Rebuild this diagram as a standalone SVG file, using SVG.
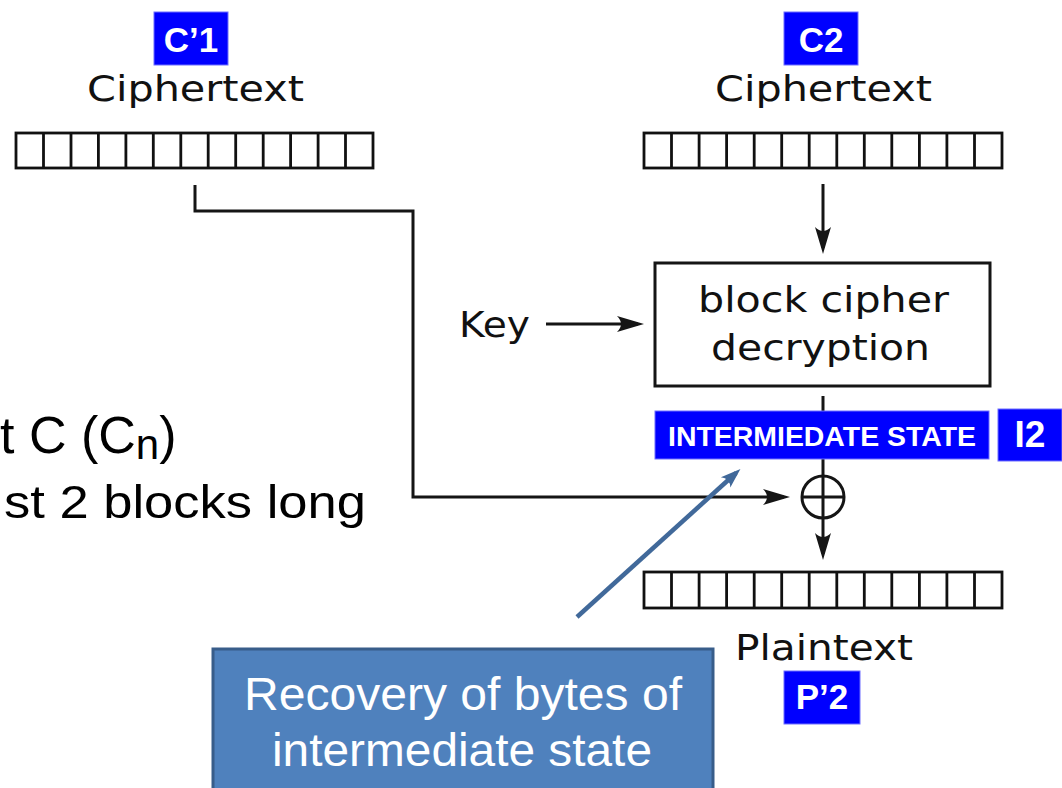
<svg xmlns="http://www.w3.org/2000/svg" width="1062" height="788" viewBox="0 0 1062 788">
<defs>
<style>
.dv{font-family:"DejaVu Sans","Liberation Sans",sans-serif;font-size:35px;fill:#111}
.ar{font-family:"Liberation Sans",Arial,sans-serif;fill:#000}
.tag{fill:#0000FF;stroke:#6f6fff;stroke-width:1}
.tagt{font-family:"Liberation Sans",Arial,sans-serif;font-weight:bold;fill:#fff;text-anchor:middle}
.ln{fill:none;stroke:#151515;stroke-width:3}
.cells{fill:#fff;stroke:#111;stroke-width:2.8}
</style>
<marker id="ah" markerUnits="userSpaceOnUse" viewBox="-22 -9 29 18" refX="0" refY="0" markerWidth="29" markerHeight="18" orient="auto">
<path d="M6,0 L-21,-8 Q-13,0 -21,8 Z" fill="#151515"/>
</marker>
<marker id="bh" markerUnits="userSpaceOnUse" viewBox="-16 -8 24 16" refX="0" refY="0" markerWidth="24" markerHeight="16" orient="auto">
<path d="M6,0 L-14,-7 Q-8,0 -14,7 Z" fill="#41699A"/>
</marker>
</defs>
<rect width="1062" height="788" fill="#fff"/>

<g id="left-text" class="ar">
<text x="0" y="453" font-size="52">t C (C<tspan font-size="42" dy="6">n</tspan><tspan dy="-6">)</tspan></text>
<text x="4" y="518" font-size="46" textLength="362" lengthAdjust="spacingAndGlyphs">st 2 blocks long</text>
</g>

<g id="connectors">
<polyline class="ln" points="195,185 195,211 413,211 413,497 784,497" marker-end="url(#ah)"/>
<line class="ln" x1="823" y1="184" x2="823" y2="248" marker-end="url(#ah)"/>
<line class="ln" x1="546" y1="324" x2="638" y2="324" marker-end="url(#ah)"/>
<line class="ln" x1="823" y1="396" x2="823" y2="476"/>
<line class="ln" x1="823" y1="518" x2="823" y2="554" marker-end="url(#ah)"/>
<line x1="577" y1="617" x2="736" y2="473" stroke="#41699A" stroke-width="4.5" marker-end="url(#bh)"/>
</g>

<g id="c1-block">
<rect class="tag" x="154" y="12" width="74" height="53"/>
<text class="tagt" x="191" y="52" font-size="35">C’1</text>
<text class="dv" x="87" y="101" textLength="217" lengthAdjust="spacingAndGlyphs">Ciphertext</text>
<rect class="cells" x="16" y="133" width="357" height="35"/>
<path class="cells" d="M43.5,133V168M71,133V168M98.4,133V168M125.9,133V168M153.3,133V168M180.8,133V168M208.2,133V168M235.7,133V168M263.2,133V168M290.6,133V168M318.1,133V168M345.5,133V168"/>
</g>

<g id="c2-block">
<rect class="tag" x="784" y="12" width="74" height="53"/>
<text class="tagt" x="821" y="52" font-size="35">C2</text>
<text class="dv" x="715" y="101" textLength="217" lengthAdjust="spacingAndGlyphs">Ciphertext</text>
<rect class="cells" x="644" y="133" width="358" height="35"/>
<path class="cells" d="M671.5,133V168M699.1,133V168M726.6,133V168M754.2,133V168M781.7,133V168M809.2,133V168M836.8,133V168M864.3,133V168M891.8,133V168M919.4,133V168M946.9,133V168M974.5,133V168"/>
</g>

<g id="key">
<text class="dv" x="459" y="337" textLength="71" lengthAdjust="spacingAndGlyphs">Key</text>
</g>

<g id="decrypt">
<rect x="655" y="263" width="335" height="123" fill="#fff" stroke="#151515" stroke-width="3"/>
<text class="dv" x="698" y="312" textLength="251" lengthAdjust="spacingAndGlyphs">block cipher</text>
<text class="dv" x="711" y="360" textLength="219" lengthAdjust="spacingAndGlyphs">decryption</text>
</g>

<g id="intermediate">
<rect class="tag" x="655" y="411" width="334" height="48"/>
<text class="tagt" x="822" y="446" font-size="28" textLength="308" lengthAdjust="spacingAndGlyphs">INTERMIEDATE STATE</text>
</g>

<g id="i2">
<rect class="tag" x="998" y="409" width="64" height="52"/>
<text class="tagt" x="1030" y="447" font-size="37">I2</text>
</g>

<g id="xor">
<circle cx="823" cy="497" r="21" fill="#fff" stroke="#151515" stroke-width="3"/>
<path class="ln" d="M802,497H844M823,476V518"/>
</g>

<g id="p2-block">
<rect class="cells" x="644" y="572" width="358" height="36"/>
<path class="cells" d="M671.5,572V608M699.1,572V608M726.6,572V608M754.2,572V608M781.7,572V608M809.2,572V608M836.8,572V608M864.3,572V608M891.8,572V608M919.4,572V608M946.9,572V608M974.5,572V608"/>
<text class="dv" x="735" y="660" textLength="178" lengthAdjust="spacingAndGlyphs">Plaintext</text>
<rect class="tag" x="784" y="671" width="76" height="53"/>
<text class="tagt" x="822" y="709" font-size="35">P’2</text>
</g>

<g id="recovery">
<rect x="213" y="649" width="500" height="150" fill="#4F81BD" stroke="#385D8A" stroke-width="3"/>
<text x="244" y="710" font-family="'Liberation Sans',Arial,sans-serif" font-size="46" fill="#fff" textLength="438" lengthAdjust="spacingAndGlyphs">Recovery of bytes of</text>
<text x="272" y="766" font-family="'Liberation Sans',Arial,sans-serif" font-size="46" fill="#fff" textLength="380" lengthAdjust="spacingAndGlyphs">intermediate state</text>
</g>
</svg>
